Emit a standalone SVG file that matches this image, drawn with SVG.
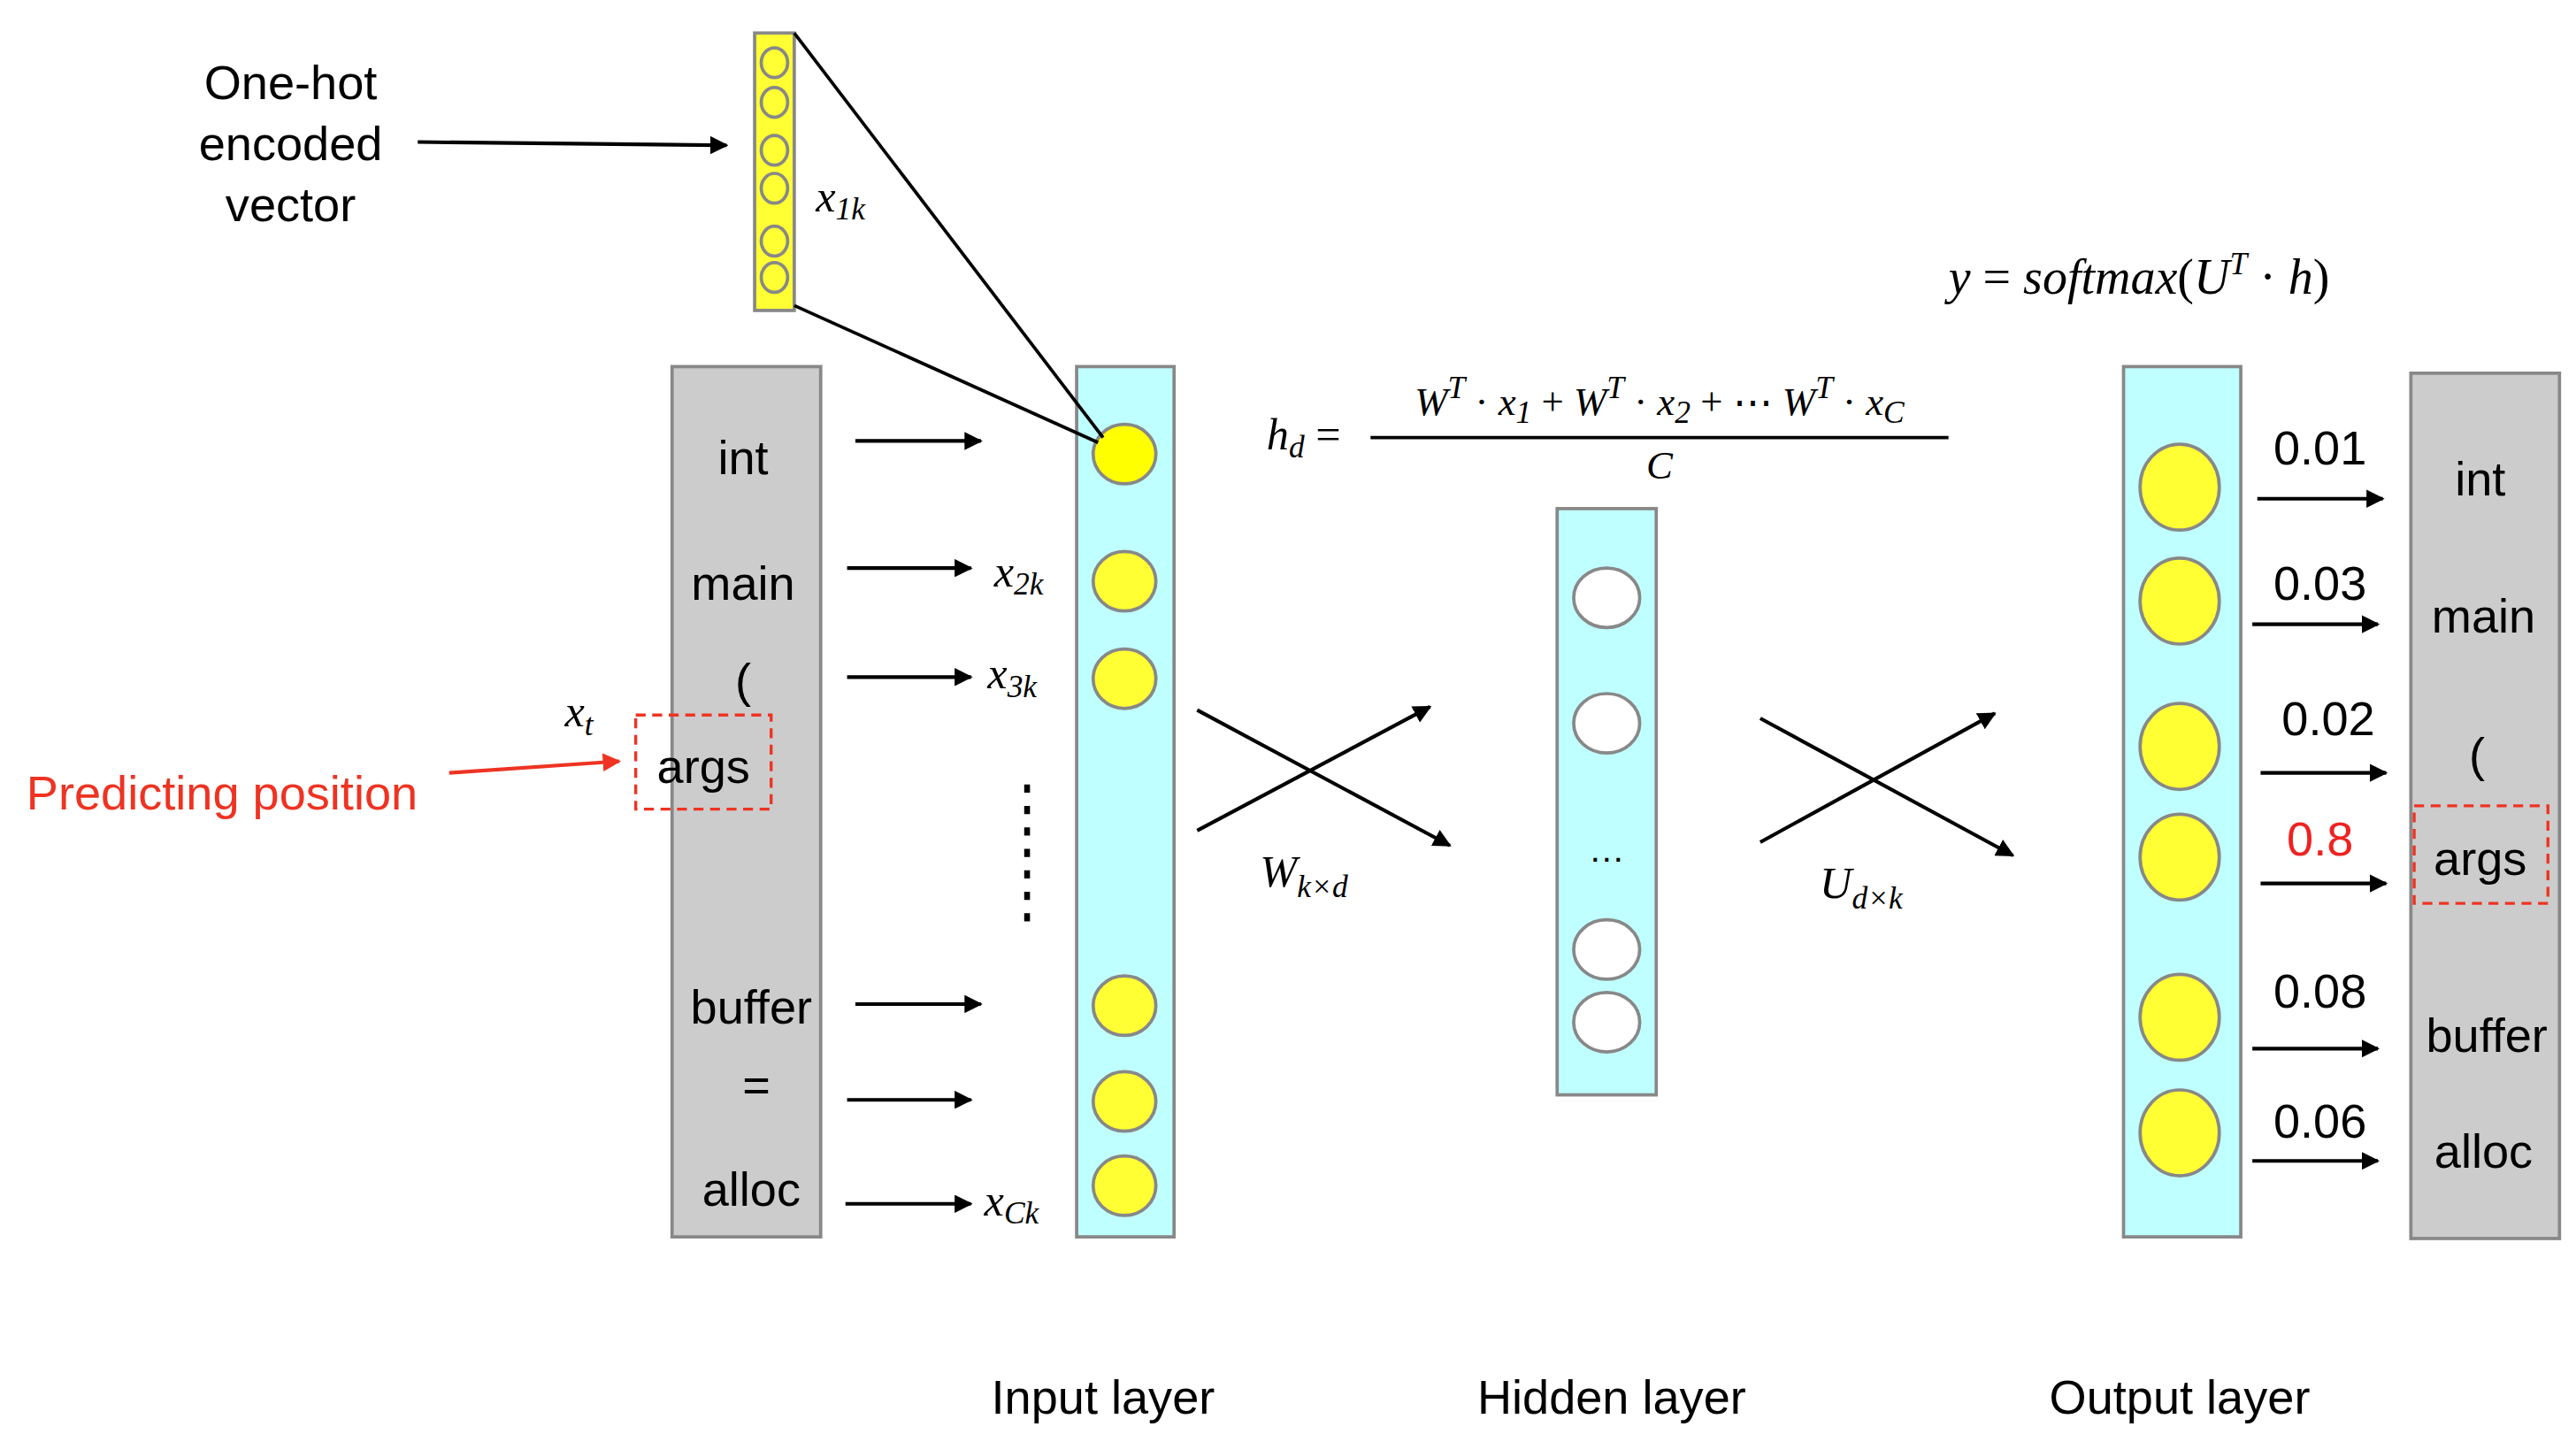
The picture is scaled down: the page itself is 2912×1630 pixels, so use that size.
<svg xmlns="http://www.w3.org/2000/svg" width="2912" height="1630" viewBox="0 0 2912 1630">
<defs>
<marker id="ah" viewBox="0 0 10 10" refX="9" refY="5" markerWidth="5" markerHeight="5" orient="auto" markerUnits="strokeWidth"><path d="M0,0 L10,5 L0,10 z" fill="#000"/></marker>
<marker id="ahr" viewBox="0 0 10 10" refX="9" refY="5" markerWidth="5" markerHeight="5" orient="auto" markerUnits="strokeWidth"><path d="M0,0 L10,5 L0,10 z" fill="#ee3322"/></marker>
<style>
.t{font-family:"Liberation Sans",Arial,sans-serif;font-size:29px;fill:#000;text-anchor:middle}
.m{font-family:"Liberation Serif","DejaVu Serif",serif;font-style:italic;font-size:27px;fill:#000}
.s{font-size:19px}
.gray{fill:#cccccc;stroke:#888;stroke-width:2}
.cyan{fill:#c0ffff;stroke:#888;stroke-width:2}
.y{fill:#ffff33;stroke:#888;stroke-width:2}
.w{fill:#fff;stroke:#888;stroke-width:2}
.a{stroke:#000;stroke-width:2.2;fill:none;marker-end:url(#ah)}
.l{stroke:#000;stroke-width:2;fill:none}
.rd{fill:none;stroke:#ee3322;stroke-width:1.8;stroke-dasharray:6,4}
</style>
</defs>
<rect width="2912" height="1630" fill="#fff"/>
<g transform="scale(1.866667)">
<g id="onehot">
<rect x="457" y="20" width="24" height="168" class="y"/>
<g class="y"><ellipse cx="469" cy="38" rx="8" ry="9"/><ellipse cx="469" cy="62" rx="8" ry="9"/><ellipse cx="469" cy="91" rx="8" ry="9"/><ellipse cx="469" cy="114" rx="8" ry="9"/><ellipse cx="469" cy="146" rx="8" ry="9"/><ellipse cx="469" cy="168" rx="8" ry="9"/></g>
<text class="m" x="494" y="128">x<tspan class="s" dy="5">1k</tspan></text>
</g>
<g id="onehot-label">
<text class="t" x="176" y="60">One-hot</text>
<text class="t" x="176" y="97">encoded</text>
<text class="t" x="176" y="134">vector</text>
</g>
<g id="input-words">
<rect x="407" y="222" width="90" height="527" class="gray"/>
<text class="t" x="450" y="287">int</text>
<text class="t" x="450" y="363">main</text>
<text class="t" x="450" y="422">(</text>
<text class="t" x="426" y="474">args</text>
<text class="t" x="455" y="620">buffer</text>
<text class="t" x="458" y="667">=</text>
<text class="t" x="455" y="730">alloc</text>
<rect x="385" y="433" width="82" height="57" class="rd"/>
<text class="m" x="342" y="440">x<tspan class="s" dy="5">t</tspan></text>
</g>
<g id="predicting">
<text x="16" y="490" style="font-family:'Liberation Sans',Arial,sans-serif;font-size:29px;fill:#ee3322">Predicting position</text>
</g>
<g id="input-layer">
<rect x="652" y="222" width="59" height="527" class="cyan"/>
<ellipse cx="681" cy="275" rx="19" ry="18" style="fill:#ffff00;stroke:#888;stroke-width:2"/>
<g class="y"><ellipse cx="681" cy="352" rx="19" ry="18"/><ellipse cx="681" cy="411" rx="19" ry="18"/><ellipse cx="681" cy="609" rx="19" ry="18"/><ellipse cx="681" cy="667" rx="19" ry="18"/><ellipse cx="681" cy="718" rx="19" ry="18"/></g>
<text class="m" x="602" y="355">x<tspan class="s" dy="5">2k</tspan></text>
<text class="m" x="598" y="417">x<tspan class="s" dy="5">3k</tspan></text>
<text class="m" x="596" y="736">x<tspan class="s" dy="5">Ck</tspan></text>
<line x1="622" y1="475" x2="622" y2="562" style="stroke:#000;stroke-width:3.5;stroke-dasharray:5,8"/>
<text class="t" x="668" y="856">Input  layer</text>
</g>
<g id="hidden-layer">
<rect x="943" y="308" width="60" height="355" class="cyan"/>
<g class="w"><ellipse cx="973" cy="362" rx="20" ry="18"/><ellipse cx="973" cy="438" rx="20" ry="18"/><ellipse cx="973" cy="575" rx="20" ry="18"/><ellipse cx="973" cy="619" rx="20" ry="18"/></g>
<text class="t" x="973" y="522" style="font-size:22px">…</text>
<text class="t" x="976" y="856">Hidden layer</text>
</g>
<g id="output-layer">
<rect x="1286" y="222" width="71" height="527" class="cyan"/>
<g class="y"><ellipse cx="1320" cy="295" rx="24" ry="26"/><ellipse cx="1320" cy="364" rx="24" ry="26"/><ellipse cx="1320" cy="452" rx="24" ry="26"/><ellipse cx="1320" cy="519" rx="24" ry="26"/><ellipse cx="1320" cy="616" rx="24" ry="26"/><ellipse cx="1320" cy="686" rx="24" ry="26"/></g>
<text class="t" x="1320" y="856">Output layer</text>
</g>
<g id="output-words">
<rect x="1460" y="226" width="90" height="524" class="gray"/>
<text class="t" x="1502" y="300">int</text>
<text class="t" x="1504" y="383">main</text>
<text class="t" x="1500" y="467">(</text>
<text class="t" x="1502" y="530">args</text>
<text class="t" x="1506" y="637">buffer</text>
<text class="t" x="1504" y="707">alloc</text>
<rect x="1462" y="488" width="81" height="59" class="rd"/>
</g>
<g id="probs">
<text class="t" x="1405" y="281">0.01</text>
<text class="t" x="1405" y="363">0.03</text>
<text class="t" x="1410" y="445">0.02</text>
<text class="t" x="1405" y="518" style="fill:#ee2222">0.8</text>
<text class="t" x="1405" y="610">0.08</text>
<text class="t" x="1405" y="689">0.06</text>
</g>
<g id="formulas">
<text class="m" x="767" y="272">h<tspan class="s" dy="5">d</tspan><tspan dy="-5" font-style="normal"> =</tspan></text>
<line x1="830" y1="265" x2="1180" y2="265" class="l"/>
<text class="m" x="1005" y="251" text-anchor="middle" style="font-size:24px">W<tspan class="s" dy="-10">T</tspan><tspan dy="10" font-style="normal"> · </tspan>x<tspan class="s" dy="5">1</tspan><tspan dy="-5" font-style="normal"> + </tspan>W<tspan class="s" dy="-10">T</tspan><tspan dy="10" font-style="normal"> · </tspan>x<tspan class="s" dy="5">2</tspan><tspan dy="-5" font-style="normal"> + ⋯ </tspan>W<tspan class="s" dy="-10">T</tspan><tspan dy="10" font-style="normal"> · </tspan>x<tspan class="s" dy="5">C</tspan></text>
<text class="m" x="1005" y="290" text-anchor="middle" style="font-size:24px">C</text>
<text class="m" x="1180" y="178" style="font-size:30px">y<tspan font-style="normal"> = </tspan>softmax<tspan font-style="normal">(</tspan>U<tspan class="s" dy="-12">T</tspan><tspan dy="12" font-style="normal"> · </tspan>h<tspan font-style="normal">)</tspan></text>
<text class="m" x="763" y="537">W<tspan class="s" dy="6">k×d</tspan></text>
<text class="m" x="1102" y="544">U<tspan class="s" dy="6">d×k</tspan></text>
</g>
<g id="connectors">
<line x1="253" y1="86" x2="440" y2="88" class="a"/>
<line x1="481" y1="20" x2="668" y2="265" class="l"/>
<line x1="481" y1="185" x2="665" y2="268" class="l"/>
<line x1="272" y1="468" x2="375" y2="461" style="stroke:#ee3322;stroke-width:2.2;marker-end:url(#ahr)"/>
<line x1="518" y1="267" x2="594" y2="267" class="a"/>
<line x1="513" y1="344" x2="588" y2="344" class="a"/>
<line x1="513" y1="410" x2="588" y2="410" class="a"/>
<line x1="518" y1="608" x2="594" y2="608" class="a"/>
<line x1="513" y1="666" x2="588" y2="666" class="a"/>
<line x1="512" y1="729" x2="588" y2="729" class="a"/>
<line x1="725" y1="430" x2="878" y2="512" class="a"/>
<line x1="725" y1="503" x2="866" y2="428" class="a"/>
<line x1="1066" y1="435" x2="1219" y2="518" class="a"/>
<line x1="1066" y1="510" x2="1208" y2="432" class="a"/>
<line x1="1367" y1="302" x2="1443" y2="302" class="a"/>
<line x1="1364" y1="378" x2="1440" y2="378" class="a"/>
<line x1="1369" y1="468" x2="1445" y2="468" class="a"/>
<line x1="1369" y1="535" x2="1445" y2="535" class="a"/>
<line x1="1364" y1="635" x2="1440" y2="635" class="a"/>
<line x1="1364" y1="703" x2="1440" y2="703" class="a"/>
</g>
</g>
</svg>
